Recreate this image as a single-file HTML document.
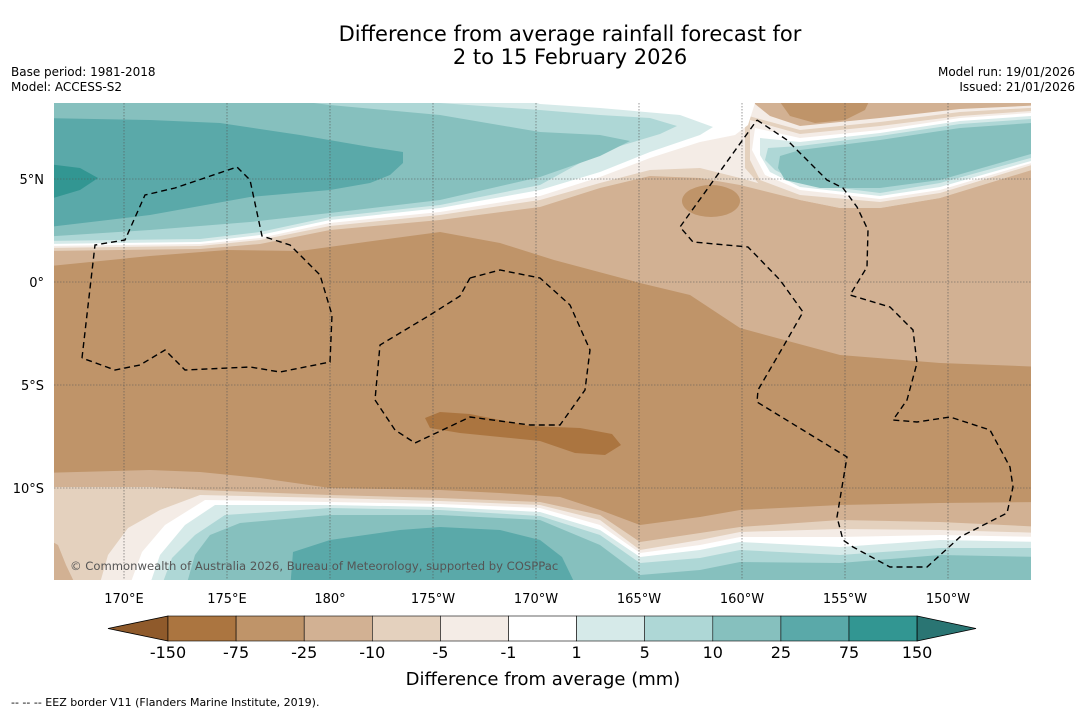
<!DOCTYPE html>
<html><head><meta charset="utf-8">
<style>
html,body{margin:0;padding:0;background:#fff;}
body{width:1085px;height:713px;overflow:hidden;font-family:"DejaVu Sans","Liberation Sans",sans-serif;}
svg text{font-family:"DejaVu Sans","Liberation Sans",sans-serif;}
</style></head>
<body>
<svg id="chart" width="1085" height="713" viewBox="0 0 1085 713" xmlns="http://www.w3.org/2000/svg">
<rect x="0" y="0" width="1085" height="713" fill="#fff"/>
<text x="570" y="41" font-size="21" text-anchor="middle" fill="#000">Difference from average rainfall forecast for</text>
<text x="570" y="64" font-size="21" text-anchor="middle" fill="#000">2 to 15 February 2026</text>
<text x="11" y="76" font-size="12" fill="#000">Base period: 1981-2018</text>
<text x="11" y="91" font-size="12" fill="#000">Model: ACCESS-S2</text>
<text x="1075" y="76" font-size="12" text-anchor="end" fill="#000">Model run: 19/01/2026</text>
<text x="1075" y="91" font-size="12" text-anchor="end" fill="#000">Issued: 21/01/2026</text>
<defs><clipPath id="mapclip"><rect x="54" y="103" width="977" height="477"/></clipPath></defs>
<g id="map" clip-path="url(#mapclip)"></g>
<g id="axes"></g>
<g id="cbar"></g>
<text x="543" y="685" font-size="18" text-anchor="middle" fill="#000">Difference from average (mm)</text>
<text x="11" y="706" font-size="11" fill="#000">--  --  -- EEZ border V11 (Flanders Marine Institute, 2019).</text>
</svg>
<script>
// Colour scale data
const levels = ["-150","-75","-25","-10","-5","-1","1","5","10","25","75","150"];
const bandColors = ["#ab7540","#bf9469","#d2b193","#e4d1be","#f4ece6","#ffffff","#d6eae9","#aed7d6","#86c0be","#5aa9a9","#329692"];
const lonTicks = [170,175,180,-175,-170,-165,-160,-155,-150];
const lonLabels = ["170°E","175°E","180°","175°W","170°W","165°W","160°W","155°W","150°W"];
const latTicks = [5,0,-5,-10];
const latLabels = ["5°N","0°","5°S","10°S"];

const NS="http://www.w3.org/2000/svg";
function lonX(lon){ let l = lon<0 ? lon+360 : lon; return 124 + (l-170)*20.6; }
function latY(lat){ return 282 - lat*20.6; }
function mk(tag, attrs, parent){ const e=document.createElementNS(NS,tag); for(const k in attrs) e.setAttribute(k,attrs[k]); parent.appendChild(e); return e; }

const map=document.getElementById('map');
const C={n150:bandColors[0],n75:bandColors[1],n25:bandColors[2],n10:bandColors[3],n5:bandColors[4],w:bandColors[5],p1:bandColors[6],p5:bandColors[7],p10:bandColors[8],p25:bandColors[9],p75:bandColors[10]};
function poly(pts,fill,name){
  const e=mk('polygon',{points:pts.map(p=>p.join(',')).join(' '),fill:fill},map);
  
  
}
function band(upper,lower,fill,name){ poly(upper.concat(lower.slice().reverse()),fill,name); }
const TOP=[[40,90],[1045,90]];
// base
const base=mk('rect',{x:54,y:103,width:977,height:477,fill:C.n75},map);


// north -25 and -10, -5
band(TOP,[[40,267],[150,256],[227,250],[300,251],[380,240],[440,232],[500,243],[554,260],[640,283],[690,295],[740,328],[840,355],[940,363],[1045,367]],C.n25,'contour-north-25');
band(TOP,[[40,251],[200,249],[260,244],[330,230],[440,220],[540,207],[600,188],[650,176],[700,178],[740,185],[800,200],[840,208],[880,208],[940,198],[1045,164]],C.n10,'contour-north-10');
band(TOP,[[40,248],[200,246],[260,240],[330,226],[440,215],[540,200],[600,183],[650,170],[700,168],[740,178],[800,195],[840,203],[880,202],[940,193],[1045,160]],C.n5,'contour-north-5');
// top-right tan patch + brown blob
poly([[690,90],[1045,90],[1045,105],[960,109],[880,118],[800,126],[770,116],[750,100]],C.n25,'contour-top-right-25');
poly([[775,95],[872,95],[865,110],[845,120],[815,123],[790,116]],C.n75,'contour-top-right-75');
// right lobe
band([[745,115],[800,130],[880,122],[960,112],[1045,107]],[[745,168],[760,185],[800,200],[840,208],[880,208],[940,198],[1045,166]],C.n10,'contour-right-lobe-10');
band([[750,120],[800,134],[880,126],[960,116],[1045,110]],[[750,160],[760,180],[800,195],[880,202],[940,193],[1045,161]],C.n5,'contour-right-lobe-5');
band([[755,128],[800,138],[880,130],[960,118],[1045,112]],[[752,150],[765,175],[800,190],[880,199],[940,190],[1045,159]],C.w,'contour-right-lobe-white');
band([[760,138],[800,142],[880,133],[960,121],[1045,115]],[[760,155],[770,172],[800,187],[880,196],[940,187],[1045,157]],C.p1,'contour-right-lobe-1');
band([[768,148],[800,146],[880,136],[960,124],[1045,118]],[[765,160],[775,170],[800,183],[880,193],[940,183],[1045,154]],C.p5,'contour-right-lobe-5mm');
band([[780,156],[800,150],[880,140],[960,128],[1045,122]],[[778,168],[785,180],[820,188],[880,188],[940,180],[1045,150]],C.p10,'contour-right-lobe-10mm');
// left lobe
poly([[40,90],[755,90],[755,103],[748,125],[735,135],[700,142],[650,158],[600,177],[540,196],[440,212],[330,223],[260,238],[200,244],[40,246]],C.w,'contour-left-lobe-white');
poly([[40,90],[500,90],[540,104],[600,108],[680,115],[713,127],[700,135],[650,152],[600,172],[540,190],[440,208],[330,220],[260,235],[200,242],[40,244]],C.p1,'contour-left-lobe-1');
poly([[40,90],[330,95],[440,103],[540,110],[600,115],[650,118],[677,126],[660,134],[600,152],[540,185],[440,205],[330,217],[260,232],[200,239],[40,241]],C.p5,'contour-left-lobe-5mm');
poly([[40,90],[250,95],[330,105],[440,115],[540,132],[600,135],[630,141],[600,156],[540,177],[440,200],[330,213],[250,222],[150,230],[40,237]],C.p10,'contour-left-lobe-10mm');
poly([[40,118],[150,120],[220,123],[300,135],[370,147],[403,152],[403,163],[390,175],[370,183],[330,190],[250,197],[150,215],[40,228]],C.p25,'contour-left-lobe-25mm');
poly([[40,163],[80,168],[98,178],[80,190],[40,202]],C.p75,'contour-left-lobe-75mm');
// small -75 blob
const bl=mk('ellipse',{cx:711,cy:201,rx:29,ry:16,fill:C.n75},map);


// central -150 blob
poly([[425,418],[440,412],[470,414],[500,420],[530,426],[580,428],[612,434],[621,445],[605,455],[575,453],[540,441],[500,437],[460,433],[430,428]],C.n150,'contour-central-150');
// south bands
const BOT=[[40,590],[1045,590]];
band(BOT,[[40,473],[150,470],[200,472],[260,478],[330,488],[440,490],[500,493],[560,497],[600,510],[640,525],[700,517],[740,510],[840,505],[940,503],[1045,502]],C.n25,'contour-south-25');
band(BOT,[[40,487],[150,487],[200,490],[330,495],[440,498],[540,502],[600,515],[640,542],[700,533],[740,527],[840,520],[940,522],[1045,527]],C.n10,'contour-south-10');
poly([[40,535],[58,545],[66,565],[78,590],[40,590]],C.n25,'contour-southwest-25');
poly([[98,590],[108,555],[128,528],[160,510],[200,495],[330,498],[440,501],[540,505],[600,520],[640,550],[700,540],[740,532],[840,529],[940,530],[1045,533],[1045,590]],C.n5,'contour-south-5');
poly([[128,590],[142,552],[165,525],[205,500],[330,502],[440,504],[540,508],[600,525],[640,553],[700,545],[740,537],[840,537],[940,535],[1045,537],[1045,590]],C.w,'contour-south-white');
poly([[148,590],[160,555],[185,525],[215,505],[330,505],[440,507],[540,512],[600,530],[640,557],[700,550],[740,542],[840,547],[940,540],[1045,542],[1045,590]],C.p1,'contour-south-1');
poly([[160,590],[172,558],[195,535],[225,515],[330,508],[440,510],[540,516],[600,535],[640,563],[700,558],[740,550],[840,555],[940,548],[1045,548],[1045,590]],C.p5,'contour-south-5mm');
poly([[185,590],[195,555],[210,535],[240,523],[330,515],[440,515],[540,520],[600,545],[640,575],[700,570],[740,562],[840,563],[940,555],[1045,557],[1045,590]],C.p10,'contour-south-10mm');
poly([[290,590],[293,552],[330,540],[400,530],[440,527],[500,530],[540,540],[562,557],[578,590]],C.p25,'contour-south-25mm');

// gridlines
const axes=document.getElementById('axes');
lonTicks.forEach((lon,i)=>{
  const x=lonX(lon);
  const g=mk('line',{x1:x,y1:103,x2:x,y2:580,stroke:'#555','stroke-width':0.6,'stroke-dasharray':'1.5,1.5'},map);
  
  
  const t=mk('text',{x:x,y:603,'font-size':13,'text-anchor':'middle',fill:'#000'},axes);
  t.textContent=lonLabels[i];
  
  
});
latTicks.forEach((lat,i)=>{
  const y=latY(lat);
  const g=mk('line',{x1:54,y1:y,x2:1031,y2:y,stroke:'#555','stroke-width':0.6,'stroke-dasharray':'1.5,1.5'},map);
  
  
  const t=mk('text',{x:44,y:y+5,'font-size':13,'text-anchor':'end',fill:'#000'},axes);
  t.textContent=latLabels[i];
  
  
});
// EEZ dashed borders
const eez=[
 [[82,358],[95,245],[125,240],[145,195],[175,188],[237,167],[250,180],[262,236],[290,245],[320,275],[332,315],[330,362],[280,372],[250,367],[185,370],[165,350],[140,365],[115,370],[82,358]],
 [[470,278],[500,270],[540,278],[570,305],[590,350],[585,390],[560,425],[530,425],[470,417],[415,443],[395,430],[375,400],[380,345],[430,315],[460,296],[470,278]],
 [[757,120],[787,140],[827,180],[843,188],[857,207],[868,230],[867,267],[850,295],[890,307],[913,330],[917,363],[907,400],[893,420],[917,422],[950,417],[990,430],[1010,467],[1013,487],[1007,513],[960,537],[927,567],[890,567],[853,547],[843,540],[837,517],[847,457],[757,402],[758,390],[783,347],[803,312],[780,280],[748,247],[693,242],[680,227],[757,120]]
];
eez.forEach(p=>{
  const e=mk('polyline',{points:p.map(q=>q.join(',')).join(' '),fill:'none',stroke:'#000','stroke-width':1.4,'stroke-dasharray':'6,4'},map);
  
  
});
const cp=mk('text',{x:70,y:570,'font-size':11.6,fill:'#555'},map);
cp.textContent='© Commonwealth of Australia 2026, Bureau of Meteorology, supported by COSPPac';



// colorbar
const cbar=document.getElementById('cbar');
const cbX0=168, cbW=68.1, cbY=616, cbH=25;
const la=mk('polygon',{points:`108,${cbY+cbH/2} ${cbX0},${cbY} ${cbX0},${cbY+cbH}`,fill:'#8f5a2b',stroke:'#000','stroke-width':0.8},cbar);


bandColors.forEach((c,i)=>{
  const r=mk('rect',{x:cbX0+i*cbW,y:cbY,width:cbW,height:cbH,fill:c,stroke:'#000','stroke-width':0.6},cbar);
  
  
});
const xe=cbX0+bandColors.length*cbW;
const ra=mk('polygon',{points:`${xe},${cbY} 976,${cbY+cbH/2} ${xe},${cbY+cbH}`,fill:'#2a7573',stroke:'#000','stroke-width':0.8},cbar);


levels.forEach((l,i)=>{
  const t=mk('text',{x:cbX0+i*cbW,y:658,'font-size':16,'text-anchor':'middle',fill:'#000'},cbar);
  t.textContent=l;
  
  
});
</script>
</body></html>
